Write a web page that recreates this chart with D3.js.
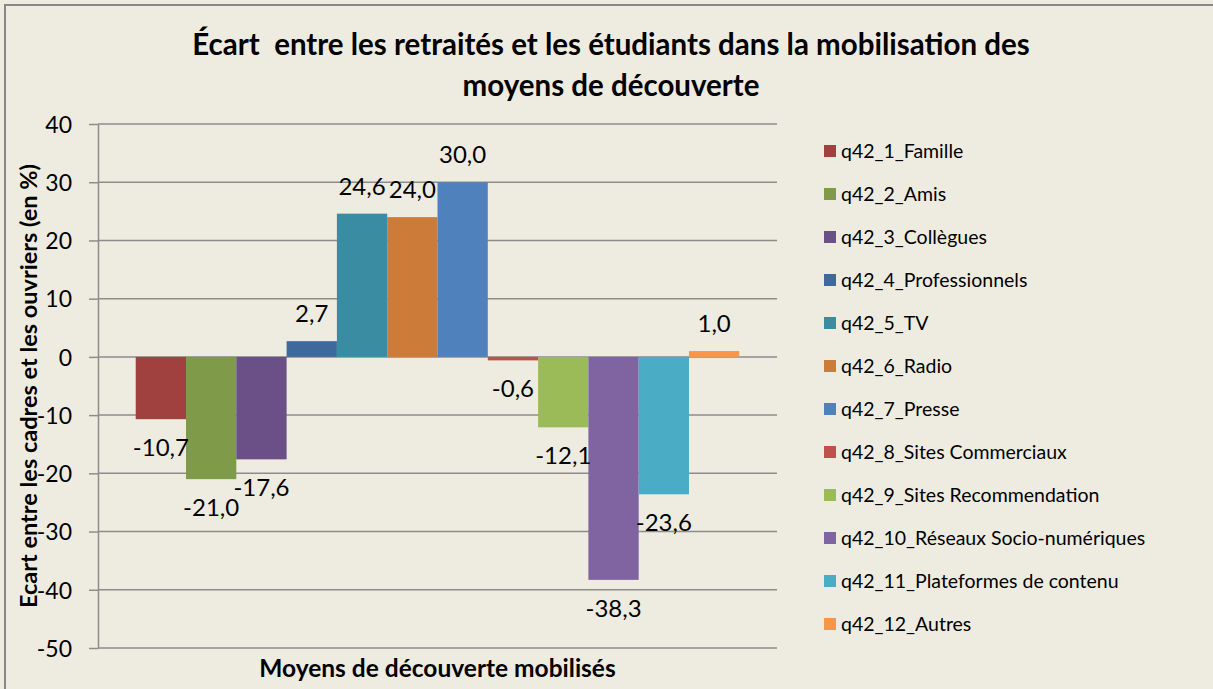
<!DOCTYPE html>
<html>
<head>
<meta charset="utf-8">
<script src="https://cdn.jsdelivr.net/npm/d3@7"></script>
<style>
  body { margin: 0; background: #fff; }
  svg { display: block; font-family: "Lato", "Open Sans", sans-serif; }
</style>
</head>
<body>
<div id="chart"></div>
<script>
let w = 1213;
let h = 689;

let titleLines = ["Écart  entre les retraités et les étudiants dans la mobilisation des", "moyens de découverte"];
let yTitle = "Ecart entre les cadres et les ouvriers (en %)";
let xTitle = "Moyens de découverte mobilisés";
let series = ["q42_1_Famille", "q42_2_Amis", "q42_3_Collègues", "q42_4_Professionnels",
    "q42_5_TV", "q42_6_Radio", "q42_7_Presse", "q42_8_Sites Commerciaux",
    "q42_9_Sites Recommendation", "q42_10_Réseaux Socio-numériques",
    "q42_11_Plateformes de contenu", "q42_12_Autres"];
let values = [-10.7, -21.0, -17.6, 2.7, 24.6, 24.0, 30.0, -0.6, -12.1, -38.3, -23.6, 1.0];
let colors = ["#A0413F", "#7F9A48", "#6A5086", "#3F689D", "#3A8CA3", "#CC7B38",
    "#4F81BD", "#C0504D", "#9BBB59", "#8064A2", "#4BACC6", "#F79646"];
let yTicks = [-50, -40, -30, -20, -10, 0, 10, 20, 30, 40];

let plotL = 98, plotR = 777, plotT = 124, plotB = 648;

let svg = d3.select("#chart").append("svg")
    .attr("width", w)
    .attr("height", h);

// chart area background + border (cropped on right/bottom)
svg.append("rect")
    .attr("width", w)
    .attr("height", h)
    .attr("fill", "#EEECE1");
svg.append("rect")
    .attr("x", 5)
    .attr("y", 5)
    .attr("width", w + 20)
    .attr("height", h + 20)
    .attr("fill", "none")
    .attr("stroke", "#878787")
    .attr("stroke-width", 2);

// title
svg.selectAll(".title")
    .data(titleLines)
    .enter()
    .append("text")
    .attr("class", "title")
    .attr("x", 611)
    .attr("y", (d, i) => 55 + i * 41)
    .attr("text-anchor", "middle")
    .attr("font-weight", "bold")
    .attr("font-size", 29.5)
    .style("white-space", "pre")
    .attr("fill", "#000")
    .text(d => d);

let y = d3.scaleLinear()
    .domain([-50, 40])
    .range([plotB, plotT]);

let x = d3.scaleBand()
    .domain(series)
    .range([plotL, plotR])
    .paddingInner(0)
    .paddingOuter(0.75);

// gridlines
svg.append("g")
    .selectAll("line")
    .data(yTicks)
    .enter()
    .append("line")
    .attr("x1", plotL)
    .attr("x2", plotR)
    .attr("y1", d => y(d))
    .attr("y2", d => y(d))
    .attr("stroke", "#8C8C8C")
    .attr("stroke-width", 1.5);

// y axis
let yAxis = svg.append("g")
    .attr("transform", `translate(${plotL},0)`)
    .call(d3.axisLeft(y).tickValues(yTicks).tickFormat(d => String(d))
        .tickSize(9).tickPadding(17).tickSizeOuter(0));
yAxis.select(".domain")
    .attr("stroke", "#8C8C8C")
    .attr("stroke-width", 1.5);
yAxis.selectAll(".tick line")
    .attr("stroke", "#8C8C8C")
    .attr("stroke-width", 1.5);
yAxis.selectAll(".tick text")
    .attr("font-family", "Lato, sans-serif")
    .attr("font-size", 23)
    .attr("fill", "#000")
    .attr("dy", "0.36em");

// bars
svg.append("g")
    .selectAll("rect")
    .data(values)
    .enter()
    .append("rect")
    .attr("x", (d, i) => x(series[i]))
    .attr("width", x.bandwidth())
    .attr("y", d => y(Math.max(0, d)))
    .attr("height", d => Math.abs(y(d) - y(0)))
    .attr("fill", (d, i) => colors[i]);

// data labels
let fmt = v => v.toFixed(1).replace(".", ",");
svg.append("g")
    .selectAll("text")
    .data(values)
    .enter()
    .append("text")
    .attr("x", (d, i) => x(series[i]) + x.bandwidth() / 2)
    .attr("y", d => d >= 0 ? y(d) - 19 : y(d) + 37)
    .attr("text-anchor", "middle")
    .attr("font-size", 24)
    .attr("fill", "#000")
    .text(d => fmt(d));

// axis titles
svg.append("text")
    .attr("transform", `translate(37, ${(plotT + plotB) / 2}) rotate(-90)`)
    .attr("text-anchor", "middle")
    .attr("font-weight", "bold")
    .attr("font-size", 23.5)
    .text(yTitle);
svg.append("text")
    .attr("x", (plotL + plotR) / 2)
    .attr("y", 677)
    .attr("text-anchor", "middle")
    .attr("font-weight", "bold")
    .attr("font-size", 24.5)
    .text(xTitle);

// legend
let legend = svg.append("g")
    .selectAll("g")
    .data(series)
    .enter()
    .append("g")
    .attr("transform", (d, i) => `translate(824, ${151 + i * 43})`);
legend.append("rect")
    .attr("y", -6)
    .attr("width", 12)
    .attr("height", 12)
    .attr("fill", (d, i) => colors[i]);
legend.append("text")
    .attr("x", 17)
    .attr("y", 7)
    .attr("font-size", 19.5)
    .attr("fill", "#000")
    .text(d => d);
</script>
</body>
</html>
